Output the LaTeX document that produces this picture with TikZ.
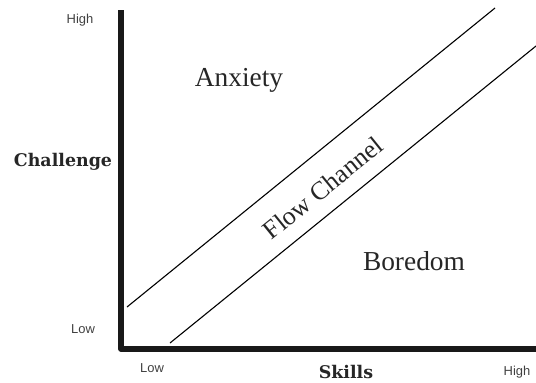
\documentclass[tikz,border=0pt]{standalone}
\usepackage{fontspec}
\setmainfont{Liberation Serif}
\newfontfamily\axisfont{Liberation Sans}
\newfontfamily\titlefont{DejaVu Serif}
\begin{document}
\begin{tikzpicture}[x=1bp,y=-1bp,
  axisline/.style={line width=5.5bp, draw=black!90},
  chanline/.style={line width=1.1bp, draw=black},
  ticklabel/.style={font=\axisfont\fontsize{13}{14}\selectfont, text=black!75, inner sep=0pt},
  axistitle/.style={font=\titlefont\bfseries\fontsize{17.5}{19}\selectfont, text=black!85, inner sep=0pt},
  region/.style={font=\fontsize{27.5}{30}\selectfont, text=black!85, inner sep=0pt}]
\useasboundingbox (0,0) rectangle (536,382);
\coordinate (top) at (121,10);
\coordinate (origin) at (121,349);
\coordinate (right) at (536,349);
\draw[axisline, line join=round] (top) -- (origin) -- (right);
\coordinate (u1) at (127,307);
\coordinate (u2) at (495,8);
\coordinate (l1) at (170,343);
\coordinate (l2) at (536,46);
\draw[chanline] (u1) -- (u2);
\draw[chanline] (l1) -- (l2);
\node[ticklabel] (hy) at (80,20) {High};
\node[ticklabel] (ly) at (83,329) {Low};
\node[ticklabel] (lx) at (152,368) {Low};
\node[ticklabel] (hx) at (517,372) {High};
\node[axistitle] (ch) at (63,162) {Challenge};
\node[axistitle] (sk) at (346,372) {Skills};
\node[region] (anx) at (239,80) {Anxiety};
\node[region] (bor) at (414,261) {Boredom};
\node[region, font=\fontsize{26}{28}\selectfont, rotate=39] (flow) at (323,188) {Flow Channel};
\end{tikzpicture}
\end{document}
